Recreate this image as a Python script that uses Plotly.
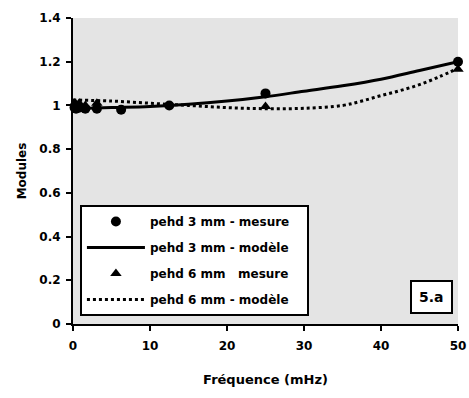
import plotly.graph_objects as go

# measurement points
freq_meas_3 = [0.2, 0.4, 0.8, 1.6, 3.1, 6.25, 12.5, 25, 50]
mod_meas_3 = [0.99, 0.985, 0.99, 0.985, 0.985, 0.98, 1.0, 1.055, 1.2]
freq_meas_6 = [0.2, 0.4, 0.8, 1.6, 3.1, 25, 50]
mod_meas_6 = [1.01, 1.005, 1.01, 1.0, 1.01, 0.995, 1.165]

# model curves
freq_model_3 = [0, 5, 10, 15, 20, 25, 30, 35, 40, 45, 50]
mod_model_3 = [0.985, 0.99, 0.995, 1.005, 1.02, 1.04, 1.065, 1.09, 1.12, 1.16, 1.2]
freq_model_6 = [0, 5, 10, 15, 20, 25, 30, 35, 37.5, 40, 42.5, 45, 47.5, 50]
mod_model_6 = [1.025, 1.02, 1.01, 1.0, 0.99, 0.985, 0.987, 1.0, 1.02, 1.045, 1.068, 1.095, 1.13, 1.17]

legend_names = ["pehd 3 mm - mesure", "pehd 3 mm - modèle",
                "pehd 6 mm   mesure", "pehd 6 mm - modèle"]

x_ticks = [0, 10, 20, 30, 40, 50]
y_ticks = [0, 0.2, 0.4, 0.6, 0.8, 1, 1.2, 1.4]

FONT = "DejaVu Sans"
PAD = "\u00a0\u00a0\u00a0"

fig = go.Figure()
fig.add_trace(go.Scatter(x=freq_meas_3, y=mod_meas_3, mode="markers",
                         name=legend_names[0] + PAD, legendgroup="a",
                         marker=dict(symbol="circle", size=10, color="black"),
                         cliponaxis=False))
fig.add_trace(go.Scatter(x=freq_model_3, y=mod_model_3, mode="lines",
                         name=legend_names[1] + PAD, legendgroup="b",
                         line=dict(color="black", width=3, shape="spline"),
                         cliponaxis=False))
fig.add_trace(go.Scatter(x=freq_meas_6, y=mod_meas_6, mode="markers",
                         name=legend_names[2] + PAD, legendgroup="c",
                         marker=dict(symbol="triangle-up", size=10, color="black"),
                         cliponaxis=False))
fig.add_trace(go.Scatter(x=freq_model_6, y=mod_model_6, mode="lines",
                         name=legend_names[3] + PAD, legendgroup="d",
                         line=dict(color="black", width=3, dash="dot", shape="spline"),
                         cliponaxis=False))

axis_common = dict(showline=True, linecolor="black", linewidth=2, ticks="outside",
                   ticklen=5, tickwidth=2, tickcolor="black", showgrid=False,
                   zeroline=False, automargin=False,
                   tickfont=dict(family=FONT, size=12, color="black", weight="bold"))

fig.update_xaxes(range=[0, 50], tickvals=x_ticks, ticklabelstandoff=5, **axis_common,
                 title=dict(text="Fréquence (mHz)", standoff=22,
                            font=dict(family=FONT, size=13, color="black", weight="bold")))
fig.update_yaxes(range=[0, 1.4], tickvals=y_ticks, ticklabelstandoff=3, **axis_common,
                 title=dict(text="Modules", standoff=10,
                            font=dict(family=FONT, size=12, color="black", weight="bold")))

fig.add_annotation(x=0.93, y=0.088, xref="paper", yref="paper", text="5.a", showarrow=False,
                   xanchor="center", yanchor="middle",
                   font=dict(family=FONT, size=14, color="black", weight="bold"),
                   bordercolor="black", borderwidth=2, borderpad=7, bgcolor="white")

fig.update_layout(
    width=469, height=398,
    margin=dict(l=73, r=11, t=18, b=74),
    plot_bgcolor="#e4e4e4", paper_bgcolor="white",
    legend=dict(x=0.018, y=0.389, xanchor="left", yanchor="top",
                bgcolor="white", bordercolor="black", borderwidth=2,
                font=dict(family=FONT, size=12, color="black", weight="bold"),
                traceorder="grouped", tracegroupgap=7, itemwidth=58),
)

fig.write_html("out.html")
